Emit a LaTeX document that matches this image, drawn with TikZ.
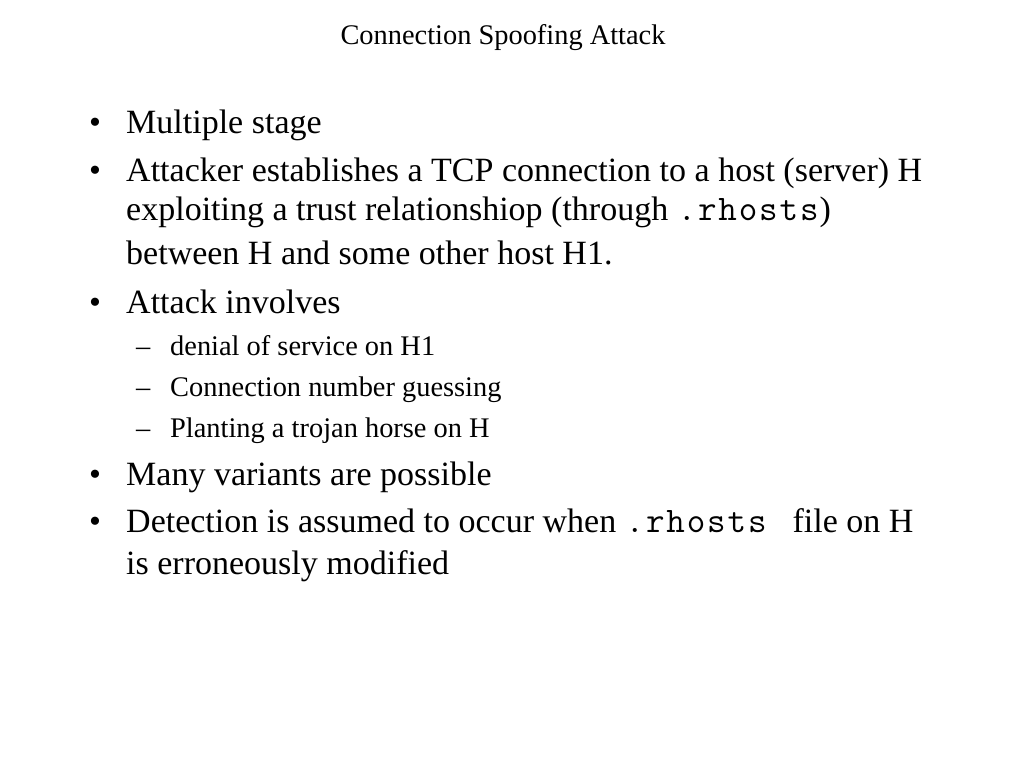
\documentclass[tikz,border=0pt]{standalone}
\usepackage{fontspec}
\setmainfont{Liberation Serif}
\usepackage{tikz}
\usepackage{xcolor}

\tikzset{
	title/.style={inner sep=0pt, anchor=base, font=\fontsize{28.4}{34}\selectfont},
	main/.style={inner sep=0pt, anchor=base west, font=\fontsize{34}{40}\selectfont},
	sub/.style={inner sep=0pt, anchor=base west, font=\fontsize{28.4}{34}\selectfont}
}

% typewriter letters, one fixed cell each
\newcommand{\mch}[1]{\makebox[20.4pt]{#1}}
\newcommand{\rhostsname}{{\fontsize{36}{40}\ttfamily\mch{.}\mch{r}\mch{h}\mch{o}\mch{s}\mch{t}\mch{s}}}

\begin{document}
\begin{tikzpicture}[x=1pt, y=-1pt]
		\useasboundingbox[fill=white] (0,0) rectangle (1024,768);

		\node[title] (title) at (503,45) {Connection Spoofing Attack};

		% Bullets
		\node[main] (b1) at (89,133) {\textbullet};
		\node[main] (b2) at (89,181) {\textbullet};
		\node[main] (b3) at (89,313) {\textbullet};
		\node[main] (b4) at (89,485) {\textbullet};
		\node[main] (b5) at (89,532) {\textbullet};

		\node[sub] (d1) at (136,355) {--};
		\node[sub] (d2) at (136,396) {--};
		\node[sub] (d3) at (136,437) {--};

		% Items
		\node[main] (stage) at (126,133) {Multiple stage};
		\node[main] (tcp-1) at (126,181) {Attacker establishes a TCP connection to a host (server) H};
		\node[main] (tcp-2) at (126,220) {exploiting a trust relationshiop (through \rhostsname)};
		\node[main] (tcp-3) at (126,264) {between H and some other host H1.};
		\node[main] (involves) at (126,313) {Attack involves};
		\node[sub] (dos) at (170,355) {denial of service on H1};
		\node[sub] (guess) at (170,396) {Connection number guessing};
		\node[sub] (trojan) at (170,437) {Planting a trojan horse on H};
		\node[main] (variants) at (126,485) {Many variants are possible};
		\node[main] (detect-1) at (126,532) {Detection is assumed to occur when \rhostsname\hspace{25pt}file on H};
		\node[main] (detect-2) at (126,574) {is erroneously modified};
	\end{tikzpicture}
\end{document}
